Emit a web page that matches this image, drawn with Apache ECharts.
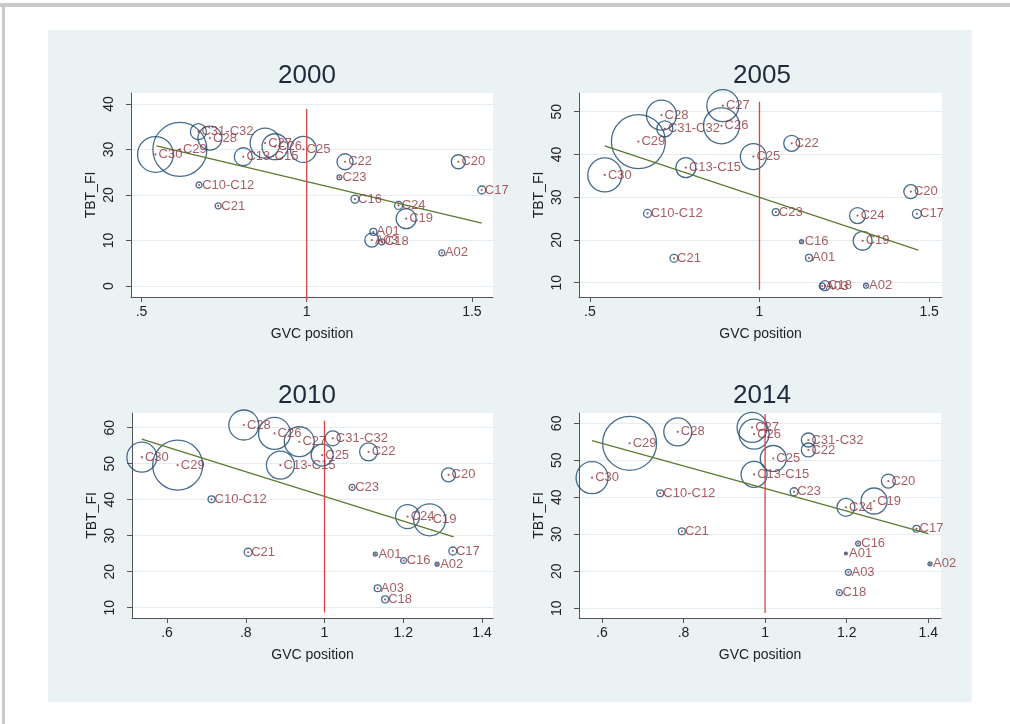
<!DOCTYPE html>
<html><head><meta charset="utf-8">
<script src="https://cdn.jsdelivr.net/npm/echarts@6/dist/echarts.min.js"></script>
<style>html,body{margin:0;padding:0;background:#fff}#c{width:1010px;height:724px}</style>
</head><body><div id="c"></div>
<script>
const years = ['2000', '2005', '2010', '2014'];
const sectors = ['A01','A02','A03','C10-C12','C13-C15','C16','C17','C18','C19','C20','C21','C22','C23','C24','C25','C26','C27','C28','C29','C30','C31-C32'];

const x2000 = [1.202,1.409,1.197,0.674,0.808,1.146,1.530,1.227,1.301,1.459,0.732,1.116,1.099,1.278,0.990,0.904,0.874,0.707,0.616,0.542,0.672];
const y2000 = [11.9,7.3,10.1,22.2,28.4,19.1,21.1,9.7,14.8,27.3,17.6,27.3,23.9,17.7,30.0,30.6,31.4,32.5,30.0,28.9,33.9];
const w2000 = [1.2,0.9,4.9,0.9,8.1,1.6,1.6,0.9,10,4.9,0.9,6.4,0.6,1.6,16.9,16.9,22.5,14.4,73,32,6.4];

const x2005 = [1.146,1.314,1.185,0.670,0.783,1.124,1.464,1.193,1.304,1.446,0.748,1.095,1.048,1.289,0.982,0.888,0.892,0.711,0.643,0.544,0.721];
const y2005 = [15.8,9.3,9.2,26.2,36.9,19.6,26.1,9.3,19.8,31.3,15.7,42.6,26.5,25.7,39.5,46.7,51.4,49.2,43.0,35.2,46.0];
const w2005 = [1.2,0.6,0.9,1.6,10,0.4,2.0,2.5,9,4.9,1.6,6.4,1.2,6.4,16.9,32.4,25.6,22.5,72.9,28.9,6.4];

const x2010 = [1.129,1.286,1.135,0.713,0.888,1.201,1.326,1.154,1.267,1.315,0.806,1.112,1.070,1.211,0.994,0.873,0.936,0.795,0.627,0.536,1.021];
const y2010 = [24.9,22.1,15.4,40.1,49.6,23.1,25.75,12.3,34.4,46.9,25.4,53.3,43.4,35.3,52.4,58.4,56.1,60.75,49.6,51.8,57.05];
const w2010 = [0.4,0.4,1.2,1.2,19.6,0.9,1.6,1.2,25.6,4.9,1.6,8.1,0.9,14.4,12.1,25.6,22.5,22.5,62.5,22.5,5.6];

const x2014 = [1.198,1.404,1.204,0.743,0.973,1.228,1.371,1.182,1.267,1.302,0.796,1.106,1.071,1.198,1.020,0.973,0.968,0.786,0.668,0.576,1.106];
const y2014 = [24.8,22.0,19.7,41.1,46.2,27.5,31.5,14.2,39.0,44.4,30.8,52.8,41.5,37.3,50.5,57.1,58.9,57.7,54.6,45.3,55.5];
const w2014 = [0.2,0.4,0.9,1.2,16.9,0.6,1.2,0.9,16.9,4.9,1.2,4.9,1.6,8.1,16.9,22.5,22.5,19.6,72.9,25.6,4.9];

// fitted line end points [x0, y0, x1, y1]
const fit2000 = [0.545, 30.8, 1.530, 13.8];
const fit2005 = [0.544, 42.0, 1.468, 17.6];
const fit2010 = [0.536, 56.8, 1.328, 29.7];
const fit2014 = [0.576, 55.3, 1.400, 30.2];
// vertical reference line at GVC position = 1 : [x, yBottom, yTop]
const ref2000 = [1, -3.1, 38.9];
const ref2005 = [1, 8.3, 52.3];
const ref2010 = [1, 8.7, 61.9];
const ref2014 = [1, 8.7, 62.5];

const xTicksA = [0.5, 1, 1.5];
const xTicksB = [0.6, 0.8, 1, 1.2, 1.4];
const yTicks2000 = [0, 10, 20, 30, 40];
const yTicks2005 = [10, 20, 30, 40, 50];
const yTicks2010 = [10, 20, 30, 40, 50, 60];
const yTicks2014 = [10, 20, 30, 40, 50, 60];

const panels = [
  {xs:x2000, ys:y2000, ws:w2000, fit:fit2000, ref:ref2000, xt:xTicksA, yt:yTicks2000,
   grid:{left:131, top:93, width:362, height:204}, xr:[0.468,1.564], yr:[-2.4,42.4], title:[307,76]},
  {xs:x2005, ys:y2005, ws:w2005, fit:fit2005, ref:ref2005, xt:xTicksA, yt:yTicks2005,
   grid:{left:579, top:93, width:363, height:204}, xr:[0.468,1.538], yr:[6.65,54.37], title:[762,76]},
  {xs:x2010, ys:y2010, ws:w2010, fit:fit2010, ref:ref2010, xt:xTicksB, yt:yTicks2010,
   grid:{left:132, top:413, width:361, height:205}, xr:[0.511,1.428], yr:[7.14,64.08], title:[307,396]},
  {xs:x2014, ys:y2014, ws:w2014, fit:fit2014, ref:ref2014, xt:xTicksB, yt:yTicks2014,
   grid:{left:579, top:413, width:362, height:205}, xr:[0.544,1.431], yr:[7.36,62.8], title:[762,396]}
];

const FONT = 'Liberation Sans, Arial, Helvetica, sans-serif';
const NAVY = '#1a476f', MAROON = '#90353b', GREEN = '#5b7a2f', RED = '#d6453d';
const fmt = v => { let s = String(+v.toFixed(2)); return s.replace(/^0\./, '.'); };

const grids = [], xAxes = [], yAxes = [], series = [], graphics = [];
graphics.push({type:'rect', shape:{x:0, y:3, width:1010, height:4}, style:{fill:'#c9c9c9'}, silent:true});
graphics.push({type:'rect', shape:{x:2, y:3, width:3, height:721}, style:{fill:'#c9c9c9'}, silent:true});
graphics.push({type:'rect', shape:{x:48, y:30, width:924, height:672}, style:{fill:'#eaf2f3'}, silent:true, z:-10});

panels.forEach((p, i) => {
  grids.push(Object.assign({show:true, backgroundColor:'#ffffff', borderWidth:0, containLabel:false}, p.grid));
  xAxes.push({
    type:'value', gridIndex:i, min:p.xr[0], max:p.xr[1],
    name:'GVC position', nameLocation:'middle', nameGap:30,
    nameTextStyle:{fontFamily:FONT, fontSize:14, color:'#222'},
    axisLine:{show:true, onZero:false, lineStyle:{color:'#555', width:1}},
    axisTick:{show:true, length:5, lineStyle:{color:'#555'}, customValues:p.xt},
    axisLabel:{customValues:p.xt, formatter:fmt, fontFamily:FONT, fontSize:14, color:'#222', margin:8},
    splitLine:{show:false}
  });
  yAxes.push({
    type:'value', gridIndex:i, min:p.yr[0], max:p.yr[1],
    name:'TBT_FI', nameLocation:'middle', nameGap:33,
    nameTextStyle:{fontFamily:FONT, fontSize:14, color:'#222'},
    axisLine:{show:true, onZero:false, lineStyle:{color:'#555', width:1}},
    axisTick:{show:true, length:5, lineStyle:{color:'#555'}, customValues:p.yt},
    axisLabel:{customValues:p.yt, rotate:90, formatter:fmt, fontFamily:FONT, fontSize:14, color:'#222', margin:15},
    splitLine:{show:true, lineStyle:{color:'#e3ecee', width:1}}
  });
  const pts = p.xs.map((x, k) => [x, p.ys[k], p.ws[k], sectors[k]]);
  series.push({
    type:'scatter', xAxisIndex:i, yAxisIndex:i, data:pts, z:2,
    symbol:'circle', symbolSize: v => Math.sqrt(v[2]) * 6.32,
    itemStyle:{color:'rgba(0,0,0,0)', borderColor:NAVY, borderWidth:1.3},
    silent:true, animation:false
  });
  series.push({
    type:'line', xAxisIndex:i, yAxisIndex:i, z:3, data:[[p.fit[0], p.fit[1]], [p.fit[2], p.fit[3]]],
    showSymbol:false, symbol:'none', lineStyle:{color:GREEN, width:1.3}, silent:true, animation:false
  });
  series.push({
    type:'line', xAxisIndex:i, yAxisIndex:i, z:3, clip:false, data:[[p.ref[0], p.ref[1]], [p.ref[0], p.ref[2]]],
    showSymbol:false, symbol:'none', lineStyle:{color:RED, width:1.3}, silent:true, animation:false
  });
  series.push({
    type:'scatter', xAxisIndex:i, yAxisIndex:i, data:pts, z:4,
    symbol:'circle', symbolSize:2.2, itemStyle:{color:MAROON},
    label:{show:true, position:'right', distance:2, formatter: d => d.data[3],
      fontFamily:FONT, fontSize:13, color:MAROON},
    labelLayout:{hideOverlap:false},
    silent:true, animation:false
  });
  graphics.push({type:'text', x:p.title[0], y:p.title[1], z:10,
    style:{text:years[i], fontFamily:FONT, fontSize:26, fill:'#1f2a3a', textAlign:'center', textVerticalAlign:'middle'}});
});

const chart = echarts.init(document.getElementById('c'), null, {renderer:'canvas'});
chart.setOption({
  backgroundColor:'#ffffff', animation:false,
  grid:grids, xAxis:xAxes, yAxis:yAxes, series:series, graphic:graphics
});
</script></body></html>
